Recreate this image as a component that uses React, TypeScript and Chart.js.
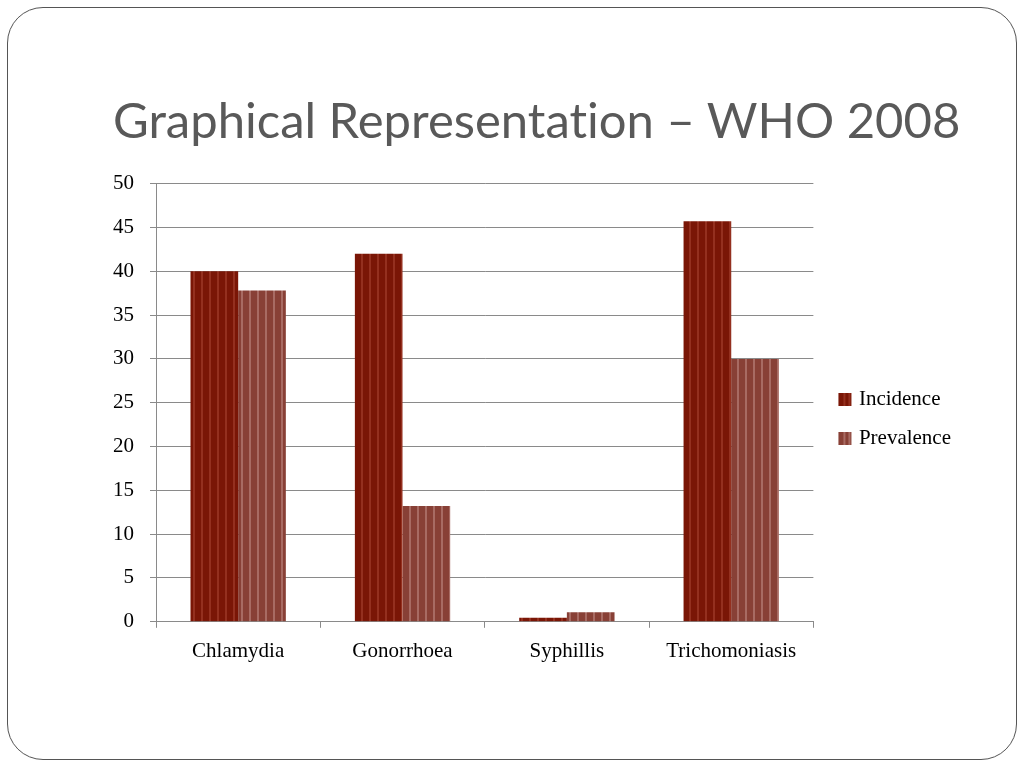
import React, { useEffect, useRef } from "react";
import { Chart, registerables } from "chart.js";

Chart.register(...registerables);

const categories: string[] = ["Chlamydia", "Gonorrhoea", "Syphillis", "Trichomoniasis"];
const seriesNames: string[] = ["Incidence", "Prevalence"];
const incidence: number[] = [40, 42, 0.45, 45.7];
const prevalence: number[] = [37.8, 13.2, 1.1, 30.0];
const yMin = 0;
const yMax = 50;
const yStep = 5;

const INC_BASE = "#7a1606";
const INC_STRIPE = "#94301f";
const PREV_BASE = "#884036";
const PREV_STRIPE = "#a86b63";

function makeStripes(base: string, stripe: string, period: number, stripeW: number): CanvasPattern | string {
  const c = document.createElement("canvas");
  c.width = period;
  c.height = 4;
  const ctx = c.getContext("2d");
  if (!ctx) return base;
  ctx.fillStyle = base;
  ctx.fillRect(0, 0, period, 4);
  ctx.fillStyle = stripe;
  ctx.fillRect(period - stripeW - 1, 0, stripeW, 4);
  const p = ctx.createPattern(c, "repeat");
  return p || base;
}

// legend swatch image: transparent margin on the left, striped square on the right
function makeSwatch(base: string, stripe: string): HTMLCanvasElement {
  const c = document.createElement("canvas");
  c.width = 25;
  c.height = 13;
  const ctx = c.getContext("2d");
  if (ctx) {
    ctx.fillStyle = base;
    ctx.fillRect(11, 0, 13, 13);
    ctx.fillStyle = stripe;
    ctx.fillRect(16, 0, 2, 13);
    ctx.fillRect(21, 0, 2, 13);
  }
  return c;
}

const serifFont = "'Liberation Serif', 'Times New Roman', serif";

function BarChart() {
  const ref = useRef<HTMLCanvasElement | null>(null);
  useEffect(() => {
    if (!ref.current) return;
    const incPattern = makeStripes(INC_BASE, INC_STRIPE, 8, 2);
    const prevPattern = makeStripes(PREV_BASE, PREV_STRIPE, 8, 2);
    const chart = new Chart(ref.current, {
      type: "bar",
      data: {
        labels: categories,
        datasets: [
          {
            label: seriesNames[0],
            data: incidence,
            backgroundColor: incPattern as any,
            borderWidth: 0,
            categoryPercentage: 0.58,
            barPercentage: 1,
            pointStyle: makeSwatch(INC_BASE, INC_STRIPE) as any,
          } as any,
          {
            label: seriesNames[1],
            data: prevalence,
            backgroundColor: prevPattern as any,
            borderWidth: 0,
            categoryPercentage: 0.58,
            barPercentage: 1,
            pointStyle: makeSwatch(PREV_BASE, PREV_STRIPE) as any,
          } as any,
        ],
      },
      options: {
        animation: false,
        responsive: false,
        maintainAspectRatio: false,
        layout: { padding: { top: 8, right: 19, bottom: 8, left: 0 } },
        plugins: {
          title: { display: false },
          tooltip: { enabled: false },
          legend: {
            position: "right",
            align: "start",
            title: {
              display: true,
              text: " ",
              font: { size: 1, lineHeight: 1 },
              padding: { top: 207, bottom: 0 },
            },
            labels: {
              usePointStyle: true,
              pointStyleWidth: 17,
              boxWidth: 17,
              boxHeight: 13,
              padding: 18,
              color: "#000",
              font: { family: serifFont, size: 21 },
            },
          },
        },
        scales: {
          x: {
            grid: {
              offset: true,
              drawOnChartArea: false,
              drawTicks: true,
              tickLength: 6,
              color: "#8a8a8a",
            },
            border: { color: "#8a8a8a", width: 1 },
            ticks: {
              color: "#000",
              padding: 11,
              font: { family: serifFont, size: 21 },
            },
          },
          y: {
            min: yMin,
            max: yMax,
            ticks: {
              stepSize: yStep,
              color: "#000",
              padding: 16,
              font: { family: serifFont, size: 21 },
            },
            grid: { color: "#8a8a8a", tickLength: 6, drawTicks: true },
            border: { color: "#8a8a8a", width: 1 },
            afterFit: (scale: any) => {
              scale.width = 56;
            },
          },
        },
      },
    });
    return () => chart.destroy();
  }, []);
  return (
    <canvas
      ref={ref}
      width={880}
      height={528}
      style={{ position: "absolute", left: 100, top: 155, width: 880, height: 528 }}
    />
  );
}

export default function App() {
  return (
    <div style={{ position: "absolute", left: 0, top: 0, width: 1024, height: 768, background: "#fff", overflow: "hidden" }}>
      <div
        style={{
          position: "absolute",
          left: 7,
          top: 7,
          width: 1010,
          height: 753,
          boxSizing: "border-box",
          border: "1px solid #555",
          borderRadius: 36,
        }}
      />
      <div
        style={{
          position: "absolute",
          left: 113,
          top: 95,
          fontFamily: "Lato, 'Open Sans', sans-serif",
          fontSize: 49,
          lineHeight: "48px",
          fontVariantLigatures: "none",
          color: "#595959",
          whiteSpace: "nowrap",
        }}
      >
        Graphical Representation – WHO 2008
      </div>
      <BarChart />
    </div>
  );
}
